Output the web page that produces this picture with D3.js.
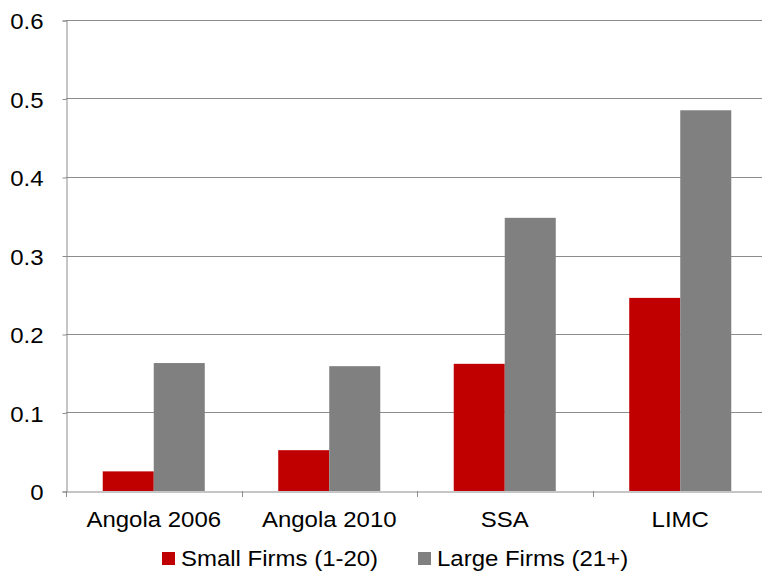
<!DOCTYPE html>
<html><head><meta charset="utf-8">
<script src="https://cdn.jsdelivr.net/npm/d3@7"></script>
<style>
body{margin:0;background:#fff;}
text{font-family:"Liberation Sans",Arial,sans-serif;fill:#000;}
</style></head>
<body><svg id="c" width="762" height="571"></svg>
<script>
const categories = ["Angola 2006","Angola 2010","SSA","LIMC"];
const seriesNames = ["Small Firms (1-20)","Large Firms (21+)"];
const smallFirms = [0.025,0.052,0.162,0.246];
const largeFirms = [0.163,0.159,0.348,0.485];
const yTicks = [0,0.1,0.2,0.3,0.4,0.5,0.6];
const colors = ["#C00000","#808080"];

(function(){
const svg = d3.select("#c");
const pLeft = 66, pRight = 768, pTop = 20, pBottom = 491;
const fs = "22px", sx = 1.09;
const x = d3.scaleBand().domain(categories).range([pLeft,pRight]).paddingInner(0).paddingOuter(0);
const xs = d3.scaleBand().domain([0,1]).range([0,x.bandwidth()]).paddingInner(0).paddingOuter(0.72);
const y = d3.scaleLinear().domain([0,0.6]).range([pBottom,pTop]);

// gridlines
svg.append("g").selectAll("line").data(yTicks.filter(d=>d>0)).join("line")
  .attr("x1",pLeft).attr("x2",pRight)
  .attr("y1",d=>Math.round(y(d))+0.5).attr("y2",d=>Math.round(y(d))+0.5)
  .attr("stroke","#8c8c8c").attr("stroke-width",1);

// bars
const series = [smallFirms,largeFirms];
series.forEach((vals,si)=>{
  svg.append("g").selectAll("rect").data(categories).join("rect")
    .attr("x",c=>x(c)+xs(si))
    .attr("width",xs.bandwidth())
    .attr("y",(c,i)=>y(vals[i]))
    .attr("height",(c,i)=>pBottom-y(vals[i]))
    .attr("fill",colors[si]);
});

// y axis
const yAxis = d3.axisLeft(y).tickValues(yTicks).tickFormat(d=>d===0?"0":d3.format(".1f")(d)).tickSize(4).tickPadding(19);
const gy = svg.append("g").attr("transform",`translate(${pLeft+0.5},0.5)`).call(yAxis);
gy.selectAll("path,line").attr("stroke","#8c8c8c");
gy.selectAll("text").style("font-size",fs).attr("dy","0.38em")
  .attr("transform",function(){const xx=+d3.select(this).attr("x");return `translate(${xx},0) scale(${sx},1) translate(${-xx},0)`;});

// x axis
const xAxis = d3.axisBottom(x).tickSize(0).tickPadding(0).tickFormat("");
const gx = svg.append("g").attr("transform",`translate(0,${pBottom+0.5})`).call(xAxis);
gx.select("path").attr("stroke","#8c8c8c");
svg.append("g").selectAll("text").data(categories).join("text")
  .attr("transform",c=>`translate(${x(c)+x.bandwidth()/2},527) scale(${sx},1)`)
  .attr("text-anchor","middle").style("font-size",fs).text(d=>d);
svg.append("g").selectAll("line").data(categories.concat(["_end"])).join("line")
  .attr("x1",(c,i)=>Math.round(pLeft+i*x.bandwidth())+0.5)
  .attr("x2",(c,i)=>Math.round(pLeft+i*x.bandwidth())+0.5)
  .attr("y1",pBottom).attr("y2",pBottom+6).attr("stroke","#8c8c8c");

// legend
const legendX = [162,418];
const lg = svg.append("g").selectAll("g").data(seriesNames).join("g")
  .attr("transform",(d,i)=>`translate(${legendX[i]},552)`);
lg.append("rect").attr("width",13).attr("height",13).attr("fill",(d,i)=>colors[i]);
lg.append("text").attr("transform",`translate(19,13.5) scale(${sx},1)`).style("font-size",fs).text(d=>d);
})();
</script></body></html>
